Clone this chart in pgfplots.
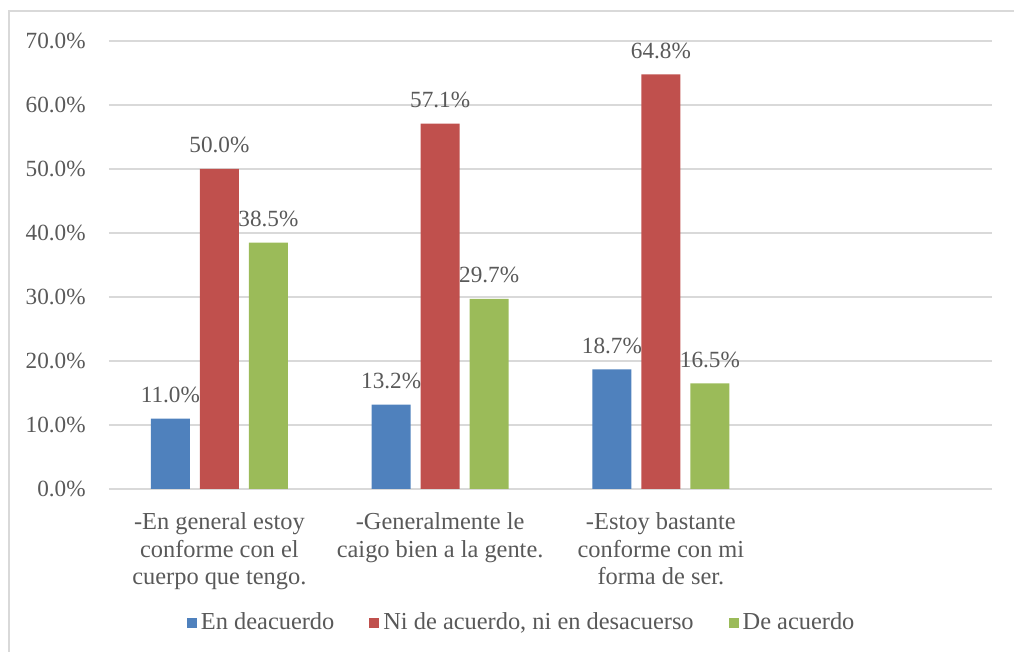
\documentclass[border=0pt]{standalone}
\usepackage{pgfplots}
\pgfplotsset{compat=1.18}
\usepackage{fontspec}
\setmainfont{Liberation Serif}
\definecolor{cblue}{HTML}{4F81BD}
\definecolor{cred}{HTML}{C0504D}
\definecolor{cgreen}{HTML}{9BBB59}
\definecolor{tgray}{HTML}{595959}
\definecolor{ggray}{HTML}{D9D9D9}
\begin{document}
\begin{tikzpicture}
\begin{axis}[
  name=ax,
  at={(0,0)}, anchor=south west,
  scale only axis,
  width=441.5pt, height=224pt,
  xmin=-0.5, xmax=3.5,
  ymin=0, ymax=70,
  ytick={0,10,20,30,40,50,60,70},
  xtick={0,1,2},
  xticklabels={{-En general estoy\\conforme con el\\cuerpo que tengo.},{-Generalmente le\\caigo bien a la gente.},{-Estoy bastante\\conforme con mi\\forma de ser.}},
  /pgf/number format/assume math mode=true,
  yticklabel={\pgfmathprintnumber[fixed,fixed zerofill,precision=1]{\tick}\%},
  yticklabel style={anchor=east, inner sep=0pt, xshift=-11.5pt, font=\fontsize{11.6}{13.75}\selectfont, text=tgray},
  xticklabel style={anchor=north, inner sep=0pt, yshift=-11.5pt, align=center, font=\fontsize{12.2}{13.9}\selectfont, text=tgray},
  major tick length=0pt,
  axis line style={draw=none},
  ymajorgrids,
  grid style={ggray, line width=0.75pt},
  ybar, bar width=19.5pt,
  clip=false,
  nodes near coords={\pgfmathprintnumber[fixed,fixed zerofill,precision=1]{\pgfplotspointmeta}\%},
  every node near coord/.append style={anchor=base, yshift=8pt, inner sep=0pt, font=\fontsize{11.6}{13.75}\selectfont, text=tgray},
  legend columns=3,
  legend style={at={(0.4685,-0.299)}, anchor=center, draw=none, font=\fontsize{12.2}{13.75}\selectfont, text=tgray,
    /tikz/every even column/.append style={column sep=15.5pt},
    nodes={inner xsep=2pt}},
  legend image code/.code={\fill[#1, draw=none] (0pt,-2.5pt) rectangle (5pt,2.5pt);},
]
\addplot[fill=cblue, draw=none, bar shift=-24.5pt] coordinates {(0,11.0) (1,13.2) (2,18.7)};
\addplot[fill=cred, draw=none, bar shift=0pt] coordinates {(0,50.0) (1,57.1) (2,64.8)};
\addplot[fill=cgreen, draw=none, bar shift=24.5pt] coordinates {(0,38.5) (1,29.7) (2,16.5)};
\legend{En deacuerdo, {Ni de acuerdo, ni en desacuerso}, De acuerdo}
\end{axis}
\draw[ggray, line width=1pt] ([shift={(-50pt,-120pt)}]ax.south west) -- ([shift={(-50pt,239pt)}]ax.south west) -- ([shift={(520pt,239pt)}]ax.south west);
\pgfresetboundingbox
\useasboundingbox ([shift={(-54.5pt,-81.5pt)}]ax.south west) rectangle ([shift={(452.5pt,244.5pt)}]ax.south west);
\end{tikzpicture}
\end{document}
